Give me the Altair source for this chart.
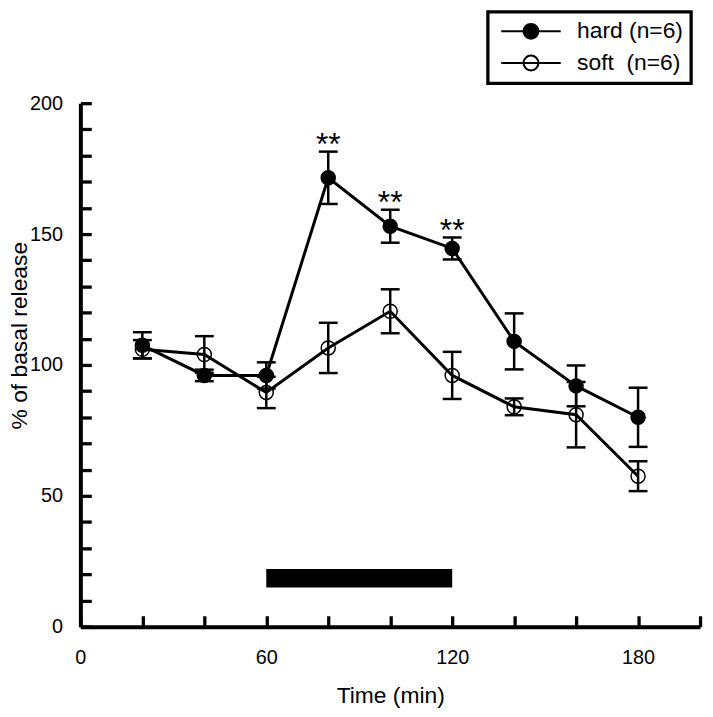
import altair as alt
import pandas as pd

# ---- data ----
times = [20, 40, 60, 80, 100, 120, 140, 160, 180]
hard_mean = [107.5, 96, 96, 171.5, 153, 144.5, 109, 92, 80]
hard_sem = [5, 2.2, 5, 10, 6.3, 4.2, 10.7, 7.8, 11.3]
soft_mean = [106, 104, 89.5, 106.5, 120.5, 96, 84, 81, 57.5]
soft_sem = [3.5, 7, 6, 9.6, 8.4, 9, 3.2, 12.5, 5.7]
hard_marks = ["", "", "", "**", "**", "**", "", "", ""]
groups = ["hard (n=6)", "soft\u00a0 (n=6)"]
x_ticks = list(range(0, 201, 20))
x_labels = [0, 60, 120, 180]
y_ticks = list(range(0, 201, 10))
y_labels = [0, 50, 100, 150, 200]
stim_start, stim_end = [60], [120]
stim_low, stim_high = [15], [22]

FONT = "Liberation Sans"

rows = []
for g, means, sems in [(groups[0], hard_mean, hard_sem), (groups[1], soft_mean, soft_sem)]:
    for i, t in enumerate(times):
        rows.append({
            "t": t, "v": means[i], "lo": means[i] - sems[i], "hi": means[i] + sems[i],
            "group": g, "mark": hard_marks[i] if g == groups[0] else "",
        })
df = pd.DataFrame(rows)
stars = df[df["mark"] != ""]
bar = pd.DataFrame({"s": stim_start, "e": stim_end, "a": stim_low, "b": stim_high})

xscale = alt.Scale(domain=[0, 200], nice=False, zero=False)
yscale = alt.Scale(domain=[0, 200], nice=False, zero=False)

def lbl_expr(vals):
    return "indexof([" + ",".join(str(v) for v in vals) + "], datum.value) >= 0 ? datum.label : ''"

xaxis = alt.Axis(
    values=x_ticks, labelExpr=lbl_expr(x_labels), ticks=False, tickSize=0,
    grid=True, gridDash=[0, 517, 11, 3000], gridColor="black", gridWidth=3.3, gridOpacity=1,
    domainColor="black", domainWidth=4,
    labelFont=FONT, labelFontSize=20, labelColor="black", labelPadding=21,
    labelFlush=False, labelOverlap=False,
    title="Time (min)", titleFont=FONT, titleFontSize=23, titleFontWeight="normal",
    titleColor="black", titlePadding=17,
)
yaxis = alt.Axis(
    values=y_ticks, labelExpr=lbl_expr(y_labels), ticks=False, tickSize=0,
    grid=True, gridDash=[11, 3000], gridColor="black", gridWidth=3.3, gridOpacity=1,
    domainColor="black", domainWidth=4,
    labelFont=FONT, labelFontSize=20, labelColor="black", labelPadding=18,
    labelFlush=False, labelOverlap=False,
    title="% of basal release", titleFont=FONT, titleFontSize=23, titleFontWeight="normal",
    titleColor="black", titleX=-54, titleY=234, titleAngle=270, titleBaseline="alphabetic",
    titleAlign="center",
)

X = lambda f: alt.X(f"{f}:Q", scale=xscale, axis=xaxis, title="Time (min)")
Y = lambda f: alt.Y(f"{f}:Q", scale=yscale, axis=yaxis, title="% of basal release")

base = alt.Chart(df)

lines = base.mark_line(color="black", strokeWidth=3).encode(
    x=X("t"), y=Y("v"), detail="group:N"
)
bars = base.mark_rule(color="black", strokeWidth=2.5).encode(
    x=X("t"), y=Y("lo"), y2="hi:Q"
)
cap_lo = base.mark_tick(color="black", orient="horizontal", size=19, thickness=2.5, opacity=1).encode(
    x=X("t"), y=Y("lo")
)
cap_hi = base.mark_tick(color="black", orient="horizontal", size=19, thickness=2.5, opacity=1).encode(
    x=X("t"), y=Y("hi")
)
path = "M-4,0H4M-1,0A1,1 0 1,1 1,0A1,1 0 1,1 -1,0Z"
points = base.mark_point(shape="circle", size=200, filled=True, stroke="black",
                         strokeWidth=1.5, opacity=1, fillOpacity=1).encode(
    x=X("t"), y=Y("v"),
    fill=alt.Fill("group:N", scale=alt.Scale(domain=groups, range=["black", "transparent"]),
                  legend=alt.Legend(
                      title=None, orient="none", legendX=411, legendY=-92,
                      symbolType=path, symbolSize=225, symbolStrokeColor="black",
                      symbolStrokeWidth=2, symbolOffset=24, labelOffset=35,
                      labelFont=FONT, labelFontSize=23, labelColor="black",
                      padding=8, rowPadding=8, strokeColor="black", fillColor="white",
                  )),
)
star_text = alt.Chart(stars).mark_text(font=FONT, fontSize=32, baseline="alphabetic",
                                       dy=3.5, color="black").encode(
    x=X("t"), y=Y("hi"), text="mark:N"
)
stim = alt.Chart(bar).mark_rect(color="black").encode(
    x=X("s"), x2="e:Q", y=Y("a"), y2="b:Q"
)

chart = alt.layer(lines, bars, cap_lo, cap_hi, points, star_text, stim).properties(
    width=625, height=528,
    autosize=alt.AutoSizeParams(type="none"),
    padding={"left": 73, "top": 93, "right": 5, "bottom": 80},
).configure_view(strokeWidth=0).configure_legend(strokeWidth=3.3)

chart.save("out.html", embed_options={"renderer": "svg", "actions": False})
